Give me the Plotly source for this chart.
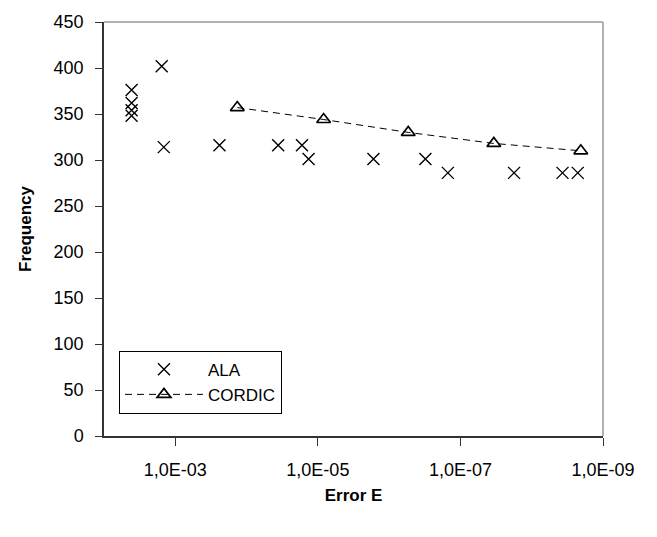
import plotly.graph_objects as go

# ---- data ----
ala_error = [4.1e-3, 4.1e-3, 4.1e-3, 4.1e-3, 1.55e-3, 1.45e-3, 2.4e-4, 3.6e-5, 1.67e-5,
             1.35e-5, 1.66e-6, 3.1e-7, 1.5e-7, 1.77e-8, 3.7e-9, 2.26e-9]
ala_freq = [376, 362, 354, 348, 402, 314, 316, 316, 316, 301, 301, 301, 286, 286, 286, 286]

cordic_error = [1.35e-4, 8.3e-6, 5.4e-7, 3.4e-8, 2.05e-9]
cordic_freq = [357, 344, 330, 318, 310]

x_tickvals = [1e-3, 1e-5, 1e-7, 1e-9]
x_ticktext = ["1,0E-03", "1,0E-05", "1,0E-07", "1,0E-09"]
y_tickvals = [0, 50, 100, 150, 200, 250, 300, 350, 400, 450]

FONT = "Arial, Liberation Sans, sans-serif"

fig = go.Figure()
fig.add_trace(go.Scatter(
    x=ala_error, y=ala_freq, mode="markers", name="ALA",
    marker=dict(symbol="x-thin", size=12, color="black",
                line=dict(color="black", width=1.4)),
))
fig.add_trace(go.Scatter(
    x=cordic_error, y=cordic_freq, mode="lines+markers", name="CORDIC",
    line=dict(color="black", width=1, dash="7px,5px"),
    marker=dict(symbol="triangle-up-open", size=12, color="black",
                line=dict(color="black", width=1.7)),
))

# plot area border (top/right grey)
fig.add_shape(type="line", xref="paper", yref="paper", x0=0, x1=1, y0=1, y1=1,
              line=dict(color="#999999", width=1.5))
fig.add_shape(type="line", xref="paper", yref="paper", x0=1, x1=1, y0=0, y1=1,
              line=dict(color="#999999", width=1.5))

fig.update_layout(
    width=657, height=537,
    margin=dict(l=104, r=54, t=19, b=101),
    paper_bgcolor="white", plot_bgcolor="white",
    font=dict(family=FONT, size=18, color="black"),
    showlegend=True,
    legend=dict(x=0.03, y=0.206, xanchor="left", yanchor="top",
                bordercolor="black", borderwidth=1, bgcolor="white",
                font=dict(family=FONT, size=17, color="black"),
                itemwidth=78, tracegroupgap=0),
    xaxis=dict(type="log", range=[-2, -9], tickmode="array",
               tickvals=x_tickvals, ticktext=x_ticktext,
               ticks="outside", ticklen=8, tickwidth=1.2, tickcolor="#333333",
               ticklabelstandoff=9,
               showline=True, linecolor="#333333", linewidth=1.5,
               showgrid=False, zeroline=False,
               title=dict(text="<b>Error E</b>", standoff=10,
                          font=dict(family=FONT, size=17))),
    yaxis=dict(range=[0, 450], tickmode="array", tickvals=y_tickvals,
               ticks="outside", ticklen=7, tickwidth=1, tickcolor="#333333",
               ticklabelstandoff=8,
               showline=True, linecolor="#333333", linewidth=1.5,
               showgrid=False, zeroline=False,
               title=dict(text="<b>Frequency</b>", standoff=18,
                          font=dict(family=FONT, size=17))),
)

fig.write_html("out.html")
